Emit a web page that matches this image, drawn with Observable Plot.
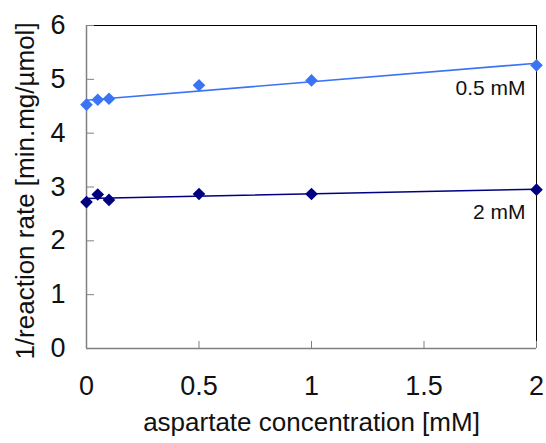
<!DOCTYPE html>
<html>
<head>
<meta charset="utf-8">
<script src="https://cdn.jsdelivr.net/npm/d3@7"></script>
<script src="https://cdn.jsdelivr.net/npm/@observablehq/plot@0.6"></script>
<style>
  html, body { margin: 0; padding: 0; background: #fff; }
  svg { overflow: visible; }
</style>
</head>
<body>
<div id="chart"></div>
<script>
const conc = [0, 0.05, 0.1, 0.5, 1, 2];
const rate05 = [4.53, 4.62, 4.64, 4.89, 4.98, 5.26];
const rate2 = [2.72, 2.86, 2.76, 2.87, 2.87, 2.95];
const seriesNames = ["0.5 mM", "2 mM"];
const seriesColors = ["#3a74f5", "#000080"];
const xTicks = [0, 0.5, 1, 1.5, 2];
const yTicks = [0, 1, 2, 3, 4, 5, 6];
const xTitle = "aspartate concentration [mM]";
const yTitle = "1/reaction rate [min.mg/µmol]";

const s05 = conc.map((x, i) => ({x, y: rate05[i]}));
const s2 = conc.map((x, i) => ({x, y: rate2[i]}));
const labels = [
  {x: 2, y: rate05[rate05.length - 1], text: seriesNames[0]},
  {x: 2, y: rate2[rate2.length - 1], text: seriesNames[1]}
];

const font = "Liberation Sans, Arial, sans-serif";

const chart = Plot.plot({
  width: 546,
  height: 443,
  marginLeft: 86,
  marginRight: 10,
  marginTop: 25,
  marginBottom: 95,
  style: {fontFamily: font, background: "#fff", overflow: "visible"},
  x: {domain: [0, 2], ticks: xTicks},
  y: {domain: [0, 6], ticks: yTicks},
  marks: [
    Plot.ruleY([6], {stroke: "#000", strokeWidth: 1}),
    Plot.ruleX([2], {stroke: "#000", strokeWidth: 1}),
    Plot.ruleX([0], {stroke: "#808080", strokeWidth: 1.5}),
    Plot.ruleY([0], {stroke: "#808080", strokeWidth: 1.5}),
    Plot.axisX({ticks: xTicks, tickSize: -7, tickPadding: 34, stroke: "#808080",
      fontSize: 27, fill: "#111", label: null, tickFormat: d => String(d)}),
    Plot.axisY({ticks: yTicks, tickSize: -8, tickPadding: 29, stroke: "#808080",
      fontSize: 27, fill: "#111", label: null, tickFormat: d => String(d)}),
    Plot.linearRegressionY(s05, {x: "x", y: "y", stroke: seriesColors[0], strokeWidth: 1.6, ci: 0}),
    Plot.linearRegressionY(s2, {x: "x", y: "y", stroke: seriesColors[1], strokeWidth: 1.6, ci: 0}),
    Plot.dot(s05, {x: "x", y: "y", symbol: "diamond2", r: 5.7, fill: seriesColors[0], stroke: "none"}),
    Plot.dot(s2, {x: "x", y: "y", symbol: "diamond2", r: 5.7, fill: seriesColors[1], stroke: "none"}),
    Plot.text(labels, {x: "x", y: "y", text: "text", textAnchor: "end", dx: -11, dy: 23,
      fontSize: 21, fill: "#111"}),
    Plot.text([xTitle], {frameAnchor: "bottom", dy: 82, fontSize: 26, fill: "#111", text: d => d}),
    Plot.text([yTitle], {frameAnchor: "left", textAnchor: "middle", dx: -61, dy: 4, rotate: -90,
      fontSize: 26, fill: "#111", text: d => d})
  ]
});
document.getElementById("chart").appendChild(chart);
</script>
</body>
</html>
